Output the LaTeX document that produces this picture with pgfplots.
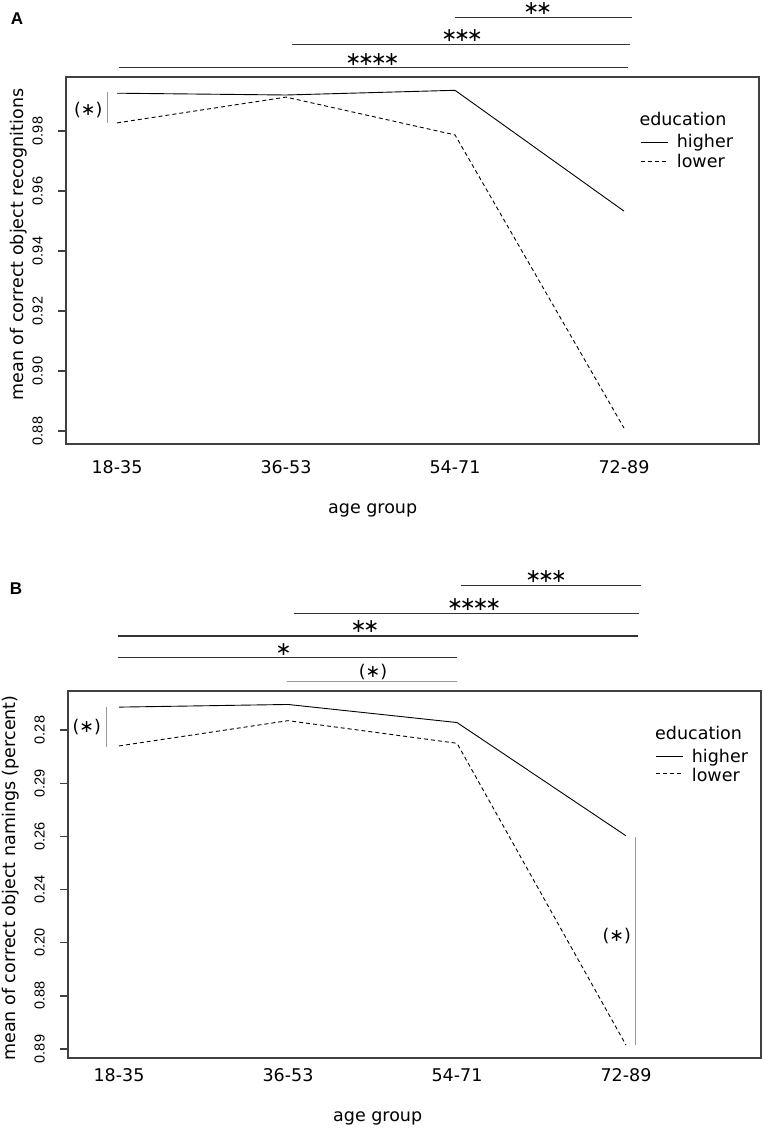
\documentclass[border=0pt]{standalone}
\usepackage{pgfplots}
\pgfplotsset{compat=1.18}
\usepackage{fontspec}
\setmainfont{DejaVu Sans}
\newfontfamily\libsans{Liberation Sans}
\newcommand\lab{\fontsize{17.5bp}{21bp}\selectfont}
\newcommand\yt{\libsans\fontsize{14.5bp}{17bp}\selectfont}
\newcommand\st[1]{\fontsize{17.5bp}{21bp}\selectfont\vphantom{()}#1}
\newcommand\sk{\kern-3.2bp}
\newcommand\sigst[1]{\fontsize{19bp}{22bp}\selectfont\vphantom{()}#1}
\pgfplotsset{rstyle/.style={
  scale only axis, width=693bp, height=367bp,
  xmin=0.698, xmax=4.799,
  axis line style={black!75, line width=1.3bp},
  xtick={1,2,3,4}, xticklabels={18-35,36-53,54-71,72-89},
  x tick style={draw=none},
  y tick style={black!75, line width=1.3bp},
  tick align=outside, major tick length=8bp,
  xtick pos=bottom, ytick pos=left,
  xticklabel style={font=\lab, anchor=base, inner sep=0pt},
  yticklabel style={font=\yt, inner sep=0pt, xshift=-15bp, rotate=90, anchor=south},
  clip=false}}
\begin{document}
\begin{tikzpicture}
\useasboundingbox (0,0) rectangle (765bp,-1129bp);
% ---------------- Panel A ----------------
\begin{axis}[rstyle, at={(66bp,-77bp)}, anchor=north west,
  ymin=0.87567, ymax=0.998,
  ytick={0.88,0.90,0.92,0.94,0.96,0.98},
  yticklabels={0.88,0.90,0.92,0.94,0.96,0.98},
  xticklabel style={yshift=-21.7bp}]
\addplot[black, line width=0.9bp, mark=none] coordinates {(1,0.9926) (2,0.9920) (3,0.99357) (4,0.9533)};
\addplot[black, line width=0.9bp, mark=none, dash pattern=on 4bp off 3bp] coordinates {(1,0.9827) (2,0.9913) (3,0.9787) (4,0.8810)};
\end{axis}
% ---------------- Panel B ----------------
\begin{axis}[rstyle, at={(68bp,-691bp)}, anchor=north west,
  ymin=-0.169, ymax=6.733,
  ytick={0,1,2,3,4,5,6},
  yticklabels={0.89,0.88,0.20,0.24,0.26,0.29,0.28},
  xticklabel style={yshift=-15.6bp}]
\addplot[black, line width=0.9bp, mark=none] coordinates {(1,6.43) (2,6.48) (3,6.14) (4,4.01)};
\addplot[black, line width=0.9bp, mark=none, dash pattern=on 4bp off 3bp] coordinates {(1,5.70) (2,6.175) (3,5.75) (4,0.075)};
\end{axis}
% ---------------- annotations ----------------
\begin{scope}[x=1bp, y=-1bp]
% panel letters
\node[font=\libsans\bfseries\fontsize{17bp}{20bp}\selectfont] at (17,19) {A};
\node[font=\libsans\bfseries\fontsize{17bp}{20bp}\selectfont] at (16,589) {B};
% axis titles
\node[font=\lab, rotate=90, anchor=base, inner sep=0pt] at (23,244.5) {mean of correct object recognitions};
\node[font=\lab, rotate=90, anchor=base, inner sep=0pt] at (15,878) {mean of correct object namings (percent)};
\node[font=\lab, anchor=base west, inner sep=0pt] at (328,513) {age group};
\node[font=\lab, anchor=base west, inner sep=0pt] at (333,1121.5) {age group};
% legend A
\node[font=\lab, anchor=base west, inner sep=0pt] at (639.3,125) {education};
\draw[black, line width=0.9bp] (640.7,142.7) -- (668.3,142.7);
\node[font=\lab, anchor=base west, inner sep=0pt] at (676.7,147.5) {higher};
\draw[black, line width=0.9bp, dash pattern=on 4bp off 3bp] (640.7,161.7) -- (668.3,161.7);
\node[font=\lab, anchor=base west, inner sep=0pt] at (676.7,167.5) {lower};
% legend B
\node[font=\lab, anchor=base west, inner sep=0pt] at (655,739) {education};
\draw[black, line width=0.9bp] (656,756) -- (682.7,756);
\node[font=\lab, anchor=base west, inner sep=0pt] at (691.7,762.3) {higher};
\draw[black, line width=0.9bp, dash pattern=on 4bp off 3bp] (656,773) -- (682.7,773);
\node[font=\lab, anchor=base west, inner sep=0pt] at (691.7,781.7) {lower};
% significance A
\draw[black!80, line width=1.3bp] (455,17.3) -- (631.7,17.3);
\node[inner sep=0pt] at (537.7,8.7) {\sigst{∗\sk∗}};
\draw[black!80, line width=1.3bp] (291.7,44.3) -- (630,44.3);
\node[inner sep=0pt] at (462,35.7) {\sigst{∗\sk∗\sk∗}};
\draw[black!80, line width=1.3bp] (119.3,67.7) -- (628.3,67.7);
\node[inner sep=0pt] at (372.5,59.2) {\sigst{∗\sk∗\sk∗\sk∗}};
\draw[black!40, line width=0.8bp] (107,91.7) -- (107,123.3);
\node[inner sep=0pt] at (88.3,110) {\st{(∗)}};
% significance B
\draw[black!80, line width=1.3bp] (460.7,585.7) -- (641,585.7);
\node[inner sep=0pt] at (546,577) {\sigst{∗\sk∗\sk∗}};
\draw[black!80, line width=1.3bp] (294,613.3) -- (639.3,613.3);
\node[inner sep=0pt] at (474.2,605) {\sigst{∗\sk∗\sk∗\sk∗}};
\draw[black!80, line width=1.3bp] (118.3,636) -- (638.3,636);
\node[inner sep=0pt] at (365,627) {\sigst{∗\sk∗}};
\draw[black!80, line width=1.3bp] (118.3,657.7) -- (457.3,657.7);
\node[inner sep=0pt] at (283.7,649.5) {\sigst{∗}};
\draw[black!40, line width=0.8bp] (287.3,681.7) -- (456.7,681.7);
\node[inner sep=0pt] at (373,672) {\st{(∗)}};
\draw[black!40, line width=0.8bp] (106,707.3) -- (106,746.7);
\node[inner sep=0pt] at (86.7,727.5) {\st{(∗)}};
\draw[black!40, line width=0.8bp] (635.7,837.3) -- (635.7,1045);
\node[inner sep=0pt] at (616.7,935.8) {\st{(∗)}};
\end{scope}
\end{tikzpicture}
\end{document}
